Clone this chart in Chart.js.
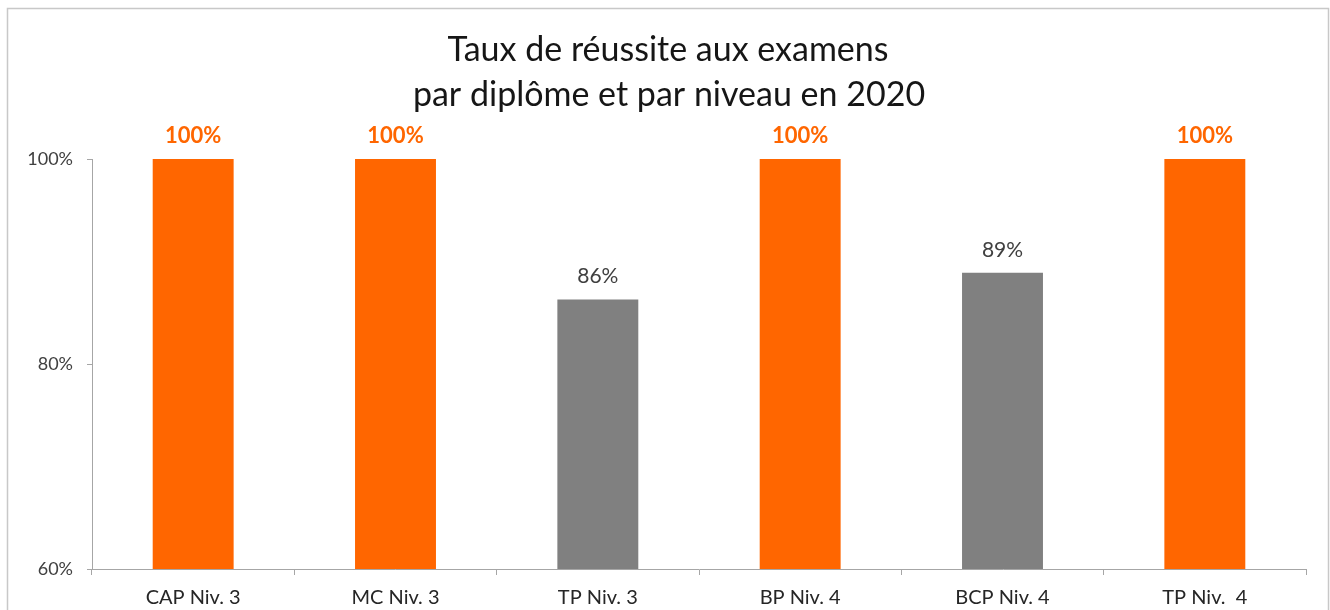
<!DOCTYPE html>
<html>
<head>
<meta charset="utf-8">
<script src="https://cdn.jsdelivr.net/npm/chart.js@4.4.1/dist/chart.umd.min.js"></script>
<style>
html,body{margin:0;padding:0;background:#fff;}
#wrap{width:1330px;height:610px;position:relative;}
</style>
</head>
<body>
<div id="wrap"><canvas id="c" width="1330" height="610"></canvas></div>
<script>
const titleLines = ["Taux de réussite aux examens", "par diplôme et par niveau en 2020"];
const categories = ["CAP Niv. 3", "MC Niv. 3", "TP Niv. 3", "BP Niv. 4", "BCP Niv. 4", "TP Niv.  4"];
const values = [100, 100, 86.3, 100, 88.9, 100];
const valueLabels = ["100%", "100%", "86%", "100%", "89%", "100%"];
const yTicks = [60, 80, 100];

const ORANGE = "#FF6600";
const GRAY = "#808080";
const FONT = "Lato, 'Open Sans', sans-serif";

const framePlugin = {
  id: "frame",
  beforeDraw(chart) {
    const ctx = chart.ctx;
    ctx.save();
    ctx.fillStyle = "#fff";
    ctx.fillRect(0, 0, chart.width, chart.height);
    ctx.strokeStyle = "#c8c8c8";
    ctx.lineWidth = 1.5;
    ctx.strokeRect(7.5, 8.5, 1321, 640);
    ctx.fillStyle = "#161616";
    ctx.font = "34px " + FONT;
    ctx.textAlign = "center";
    ctx.textBaseline = "middle";
    ctx.fillText(titleLines[0], 668, 50);
    ctx.fillText(titleLines[1], 669, 95);
    ctx.restore();
  }
};

const labelPlugin = {
  id: "valueLabels",
  afterDatasetsDraw(chart) {
    const ctx = chart.ctx;
    const meta = chart.getDatasetMeta(0);
    ctx.save();
    ctx.textAlign = "center";
    ctx.textBaseline = "middle";
    meta.data.forEach((bar, i) => {
      const full = values[i] >= 100;
      ctx.fillStyle = full ? ORANGE : "#404040";
      ctx.font = (full ? "bold " : "") + (full ? "22px " : "21px ") + FONT;
      ctx.fillText(valueLabels[i], bar.x, bar.y - 23);
    });
    ctx.restore();
  }
};

new Chart(document.getElementById("c"), {
  type: "bar",
  data: {
    labels: categories,
    datasets: [{
      data: values,
      backgroundColor: values.map(v => v >= 100 ? ORANGE : GRAY),
      categoryPercentage: 1,
      barPercentage: 0.4
    }]
  },
  options: {
    responsive: false,
    animation: false,
    devicePixelRatio: 1,
    layout: { padding: { left: 8, right: 24, top: 159, bottom: 0 } },
    plugins: { legend: { display: false }, tooltip: { enabled: false }, title: { display: false } },
    scales: {
      y: {
        min: 60, max: 100,
        afterFit(scale) { scale.width = 84; },
        afterBuildTicks(scale) { scale.ticks = yTicks.map(v => ({ value: v })); },
        border: { display: true, color: "#a6a6a6", width: 1 },
        grid: { drawOnChartArea: false, drawTicks: true, tickLength: 5, color: "#a6a6a6" },
        ticks: {
          padding: 14,
          color: "#404040",
          font: { family: FONT, size: 18 },
          callback: v => v + "%"
        }
      },
      x: {
        afterFit(scale) { scale.height = 41; },
        border: { display: true, color: "#a6a6a6", width: 1 },
        grid: { drawOnChartArea: false, drawTicks: true, tickLength: 6, color: "#a6a6a6", offset: true },
        ticks: {
          padding: 11,
          color: "#262626",
          font: { family: FONT, size: 20 },
          maxRotation: 0
        }
      }
    }
  },
  plugins: [framePlugin, labelPlugin]
});
</script>
</body>
</html>
